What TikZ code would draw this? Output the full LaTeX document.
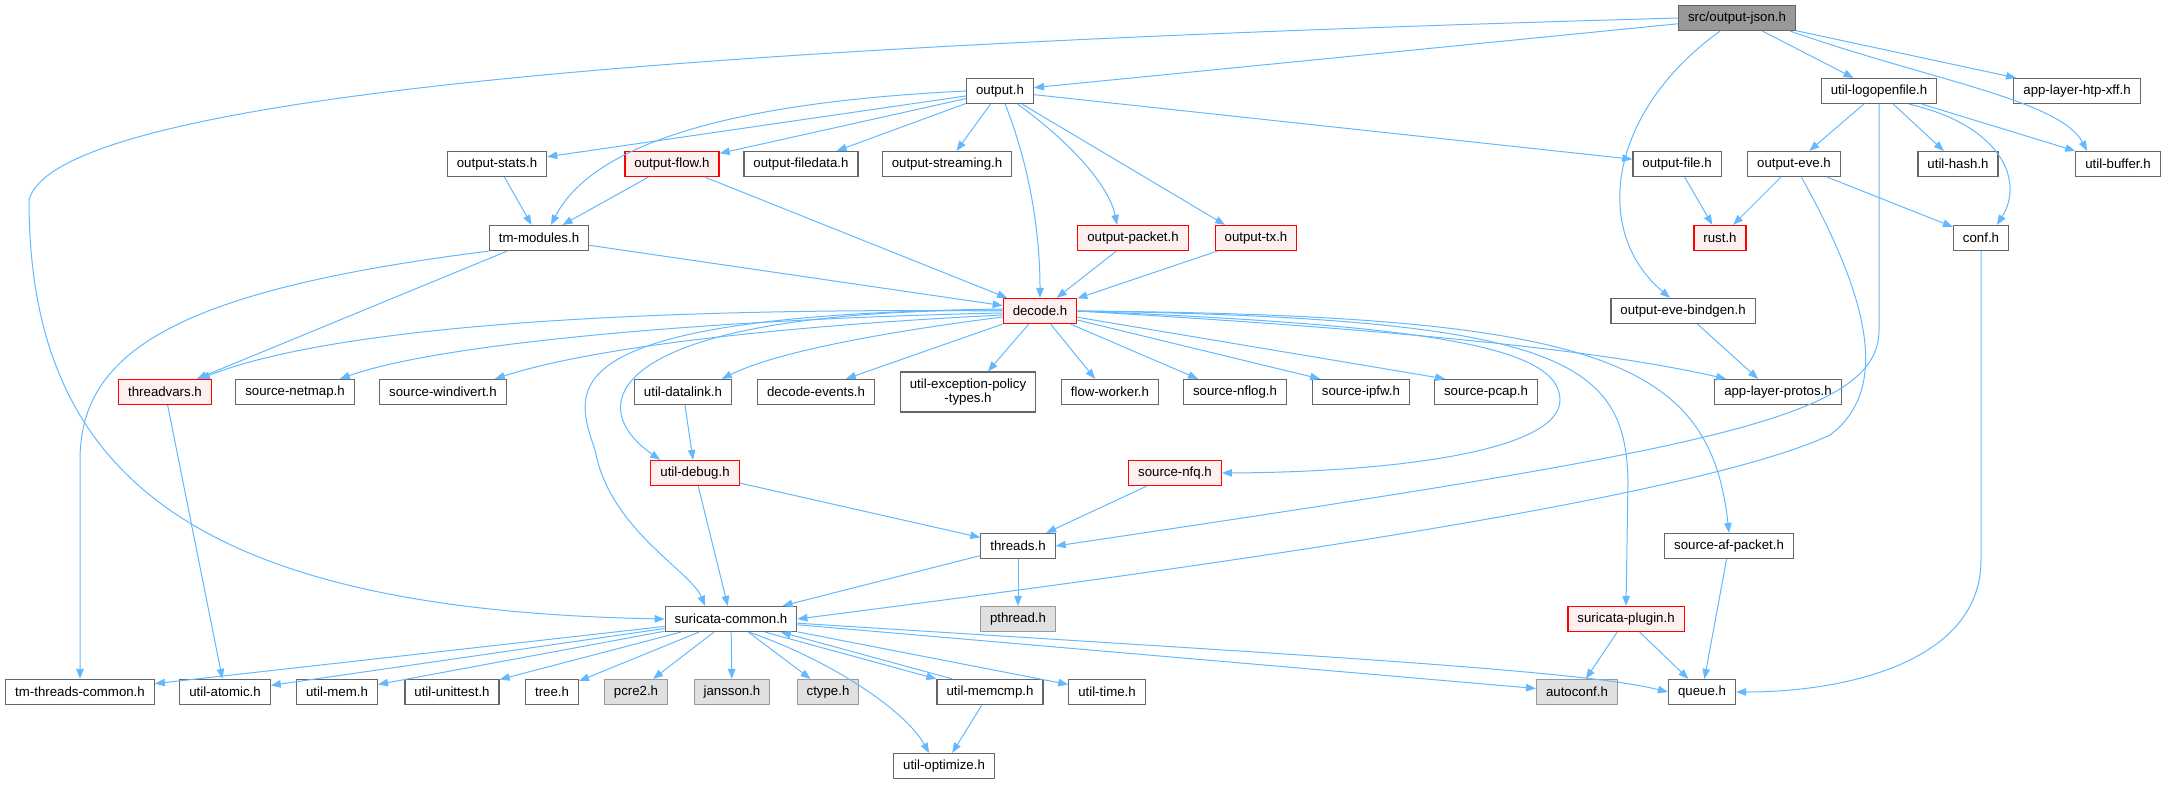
\documentclass[tikz,border=0pt]{standalone}
\usepackage{fontspec}
\setmainfont{Liberation Sans}
\usetikzlibrary{arrows.meta}
\definecolor{edgeblue}{HTML}{63B8FF}
\definecolor{boxgray}{HTML}{666666}
\definecolor{redfill}{HTML}{FFF0F0}
\definecolor{sysfill}{HTML}{E0E0E0}
\definecolor{sysline}{HTML}{999999}
\definecolor{rootfill}{HTML}{999999}
\tikzset{
	file/.style={draw=boxgray, fill=white, line width=1.2bp, inner xsep=9.5bp, inner ysep=0pt, minimum height=25bp, font=\fontsize{13.3}{14.5}\selectfont},
	rootfile/.style={file, fill=rootfill},
	redfile/.style={file, draw=red, fill=redfill},
	sysfile/.style={file, draw=sysline, fill=sysfill},
	dep/.style={draw=edgeblue, line width=1bp, -{Triangle[length=10bp,width=7.5bp]}}
}

\begin{document}
\begin{tikzpicture}[x=1bp, y=-1bp]
		\useasboundingbox (0,0) rectangle (2167,784);
		%%%%% FILES %%%%%
		\node[rootfile] (outjson) at (1737,18) {src/output-json.h};
		
		\node[file] (output) at (1000,91) {output.h};
		\node[file] (logopen) at (1879,91) {util-logopenfile.h};
		\node[file] (htpxff) at (2077,91) {app-layer-htp-xff.h};
		
		\node[file] (ostats) at (497,164) {output-stats.h};
		\node[redfile] (oflow) at (672,164) {output-flow.h};
		\node[file] (ofiledata) at (801,164) {output-filedata.h};
		\node[file] (ostreaming) at (947,164) {output-streaming.h};
		\node[file] (ofile) at (1677,164) {output-file.h};
		\node[file] (oeve) at (1794,164) {output-eve.h};
		\node[file] (uhash) at (1958,164) {util-hash.h};
		\node[file] (ubuffer) at (2118,164) {util-buffer.h};
		
		\node[file] (tmmod) at (539,238) {tm-modules.h};
		\node[redfile] (opacket) at (1133,238) {output-packet.h};
		\node[redfile] (otx) at (1256,238) {output-tx.h};
		\node[redfile] (rust) at (1720,238) {rust.h};
		\node[file] (conf) at (1981,238) {conf.h};
		
		\node[redfile] (decode) at (1040,311) {decode.h};
		\node[file] (bindgen) at (1683,311) {output-eve-bindgen.h};
		
		\node[redfile] (threadvars) at (165,392) {threadvars.h};
		\node[file] (netmap) at (295,392) {source-netmap.h};
		\node[file] (windivert) at (443,392) {source-windivert.h};
		\node[file] (datalink) at (683,392) {util-datalink.h};
		\node[file] (devents) at (816,392) {decode-events.h};
		\node[file, align=center, minimum height=40bp] (expolicy) at (968,392) {util-exception-policy\\-types.h};
		\node[file] (flowworker) at (1110,392) {flow-worker.h};
		\node[file] (nflog) at (1235,392) {source-nflog.h};
		\node[file] (ipfw) at (1361,392) {source-ipfw.h};
		\node[file] (pcap) at (1486,392) {source-pcap.h};
		\node[file] (protos) at (1778,392) {app-layer-protos.h};
		
		\node[redfile] (udebug) at (695,473) {util-debug.h};
		\node[redfile] (nfq) at (1175,473) {source-nfq.h};
		
		\node[file] (threads) at (1018,546) {threads.h};
		\node[file] (afpacket) at (1729,546) {source-af-packet.h};
		
		\node[file] (sucommon) at (731,619) {suricata-common.h};
		\node[sysfile] (pthread) at (1018,619) {pthread.h};
		\node[redfile] (plugin) at (1626,619) {suricata-plugin.h};
		
		\node[file] (tmthreads) at (80,692) {tm-threads-common.h};
		\node[file] (atomic) at (225,692) {util-atomic.h};
		\node[file] (umem) at (337,692) {util-mem.h};
		\node[file] (unittest) at (452,692) {util-unittest.h};
		\node[file] (tree) at (552,692) {tree.h};
		\node[sysfile] (pcre) at (636,692) {pcre2.h};
		\node[sysfile] (jansson) at (732,692) {jansson.h};
		\node[sysfile] (ctype) at (828,692) {ctype.h};
		\node[file] (memcmp) at (990,692) {util-memcmp.h};
		\node[file] (utime) at (1107,692) {util-time.h};
		\node[sysfile] (autoconf) at (1577,692) {autoconf.h};
		\node[file] (queue) at (1702,692) {queue.h};
		
		\node[file] (optimize) at (944,766) {util-optimize.h};
		
		%%%%% FROM src/output-json.h %%%%%
		\draw[dep] (outjson.west) .. controls (900,40) and (60,80) .. (29,200) .. controls (29,480) and (200,610) .. (sucommon.west);
		\draw[dep] (outjson) -- (output);
		\draw[dep] ([xshift=-17]outjson.south) .. controls (1610,110) and (1590,230) .. ([xshift=-13]bindgen.north);
		\draw[dep] (outjson) -- (logopen);
		\draw[dep] ([xshift=-6]outjson.south east) .. controls (1930,80) and (2060,100) .. ([xshift=-31]ubuffer.north);
		\draw[dep] (outjson) -- (htpxff);
		
		%%%%% FROM output.h %%%%%
		\draw[dep] (output.west) .. controls (780,100) and (600,130) .. ([xshift=12]tmmod.north);
		\draw[dep] (output) -- (ostats);
		\draw[dep] (output) -- (oflow);
		\draw[dep] (output) -- (ofiledata);
		\draw[dep] (output) -- (ostreaming);
		\draw[dep] (output) .. controls (1035,180) and (1040,250) .. (decode);
		\draw[dep] (output) .. controls (1080,150) and (1110,190) .. ([xshift=-16]opacket.north);
		\draw[dep] (output) -- ([xshift=-31]otx.north);
		\draw[dep] (output) -- (ofile);
		
		%%%%% SECOND ROW %%%%%
		\draw[dep] (ostats) -- (tmmod);
		\draw[dep] (oflow) -- (tmmod);
		\draw[dep] (oflow) -- (decode);
		\draw[dep] (opacket) -- (decode);
		\draw[dep] (otx) -- (decode);
		\draw[dep] (ofile) -- (rust);
		\draw[dep] (oeve) -- (rust);
		\draw[dep] (oeve) -- (conf);
		\draw[dep] (oeve) .. controls (1870,300) and (1890,390) .. (1830,435) .. controls (1680,505) and (1100,580) .. (sucommon.east);
		\draw[dep] (logopen) -- (oeve);
		\draw[dep] (logopen) -- (uhash);
		\draw[dep] (logopen) -- (ubuffer);
		\draw[dep] ([xshift=30]logopen.south) .. controls (2000,125) and (2025,180) .. ([xshift=16]conf.north);
		\draw[dep] (logopen.south) -- (1879,330) .. controls (1879,420) and (1700,450) .. (threads.east);
		\draw[dep] (conf.south) -- (1981,560) .. controls (1981,660) and (1850,692) .. (queue.east);
		
		%%%%% FROM tm-modules.h %%%%%
		\draw[dep] (tmmod.south west) .. controls (180,290) and (80,350) .. (80,460) -- (tmthreads.north);
		\draw[dep] (tmmod) -- (threadvars);
		\draw[dep] (tmmod) -- (decode);
		
		%%%%% FROM decode.h %%%%%
		\draw[dep] (decode.west) .. controls (700,308) and (350,320) .. ([xshift=35]threadvars.north);
		\draw[dep] ([yshift=-2]decode.west) .. controls (750,318) and (450,340) .. ([xshift=45]netmap.north);
		\draw[dep] ([yshift=-4]decode.west) .. controls (800,325) and (600,345) .. ([xshift=52]windivert.north);
		\draw[dep] ([yshift=-6]decode.west) .. controls (900,330) and (780,350) .. ([xshift=39]datalink.north);
		\draw[dep] (decode) -- ([xshift=30]devents.north);
		\draw[dep] (decode) -- ([xshift=20]expolicy.north);
		\draw[dep] (decode) -- ([xshift=-15]flowworker.north);
		\draw[dep] (decode) -- ([xshift=-37]nflog.north);
		\draw[dep] (decode) -- ([xshift=-41]ipfw.north);
		\draw[dep] (decode) -- ([xshift=-41]pcap.north);
		\draw[dep] (decode.east) .. controls (1400,330) and (1600,350) .. ([xshift=-52]protos.north);
		\draw[dep] ([yshift=1]decode.west) .. controls (620,310) and (575,400) .. ([xshift=-35]udebug.north);
		\draw[dep] ([yshift=2]decode.west) .. controls (540,315) and (575,390) .. (595,450) .. controls (610,530) and (690,570) .. ([xshift=-26]sucommon.north);
		\draw[dep] (decode.east) .. controls (1420,325) and (1560,345) .. (1560,400) .. controls (1560,450) and (1400,472) .. (nfq.east);
		\draw[dep] (decode.east) .. controls (1560,318) and (1625,360) .. (1628,480) -- (plugin.north);
		\draw[dep] (decode.east) .. controls (1600,315) and (1710,360) .. (afpacket.north);
		\draw[dep] (bindgen) -- ([xshift=-20]protos.north);
		
		%%%%% MIDDLE %%%%%
		\draw[dep] (threadvars) -- (atomic);
		\draw[dep] (datalink) -- (udebug);
		\draw[dep] (udebug) -- (threads);
		\draw[dep] (udebug) -- (sucommon);
		\draw[dep] (nfq) -- (threads);
		\draw[dep] (threads) -- (sucommon);
		\draw[dep] (threads) -- (pthread);
		\draw[dep] (afpacket) -- (queue);
		\draw[dep] (plugin) -- (autoconf);
		\draw[dep] (plugin) -- (queue);
		
		%%%%% FROM suricata-common.h %%%%%
		\draw[dep] (sucommon) -- (tmthreads);
		\draw[dep] (sucommon) -- (atomic);
		\draw[dep] (sucommon) -- (umem);
		\draw[dep] (sucommon) -- (unittest);
		\draw[dep] (sucommon) -- (tree);
		\draw[dep] (sucommon) -- (pcre);
		\draw[dep] (sucommon) -- (jansson);
		\draw[dep] (sucommon) -- (ctype);
		\draw[dep] ([xshift=34]sucommon.south) -- (memcmp.north west);
		\draw[dep] ([xshift=16]memcmp.north west) -- ([xshift=50]sucommon.south);
		\draw[dep] (sucommon) -- (utime);
		\draw[dep] ([xshift=18]sucommon.south) .. controls (830,660) and (905,710) .. ([xshift=-15]optimize.north);
		\draw[dep] (sucommon) -- (autoconf);
		\draw[dep] (sucommon) .. controls (1300,655) and (1580,670) .. (queue.west);
		\draw[dep] (memcmp) -- (optimize);
		%%%%% END %%%%%
	\end{tikzpicture}
\end{document}
